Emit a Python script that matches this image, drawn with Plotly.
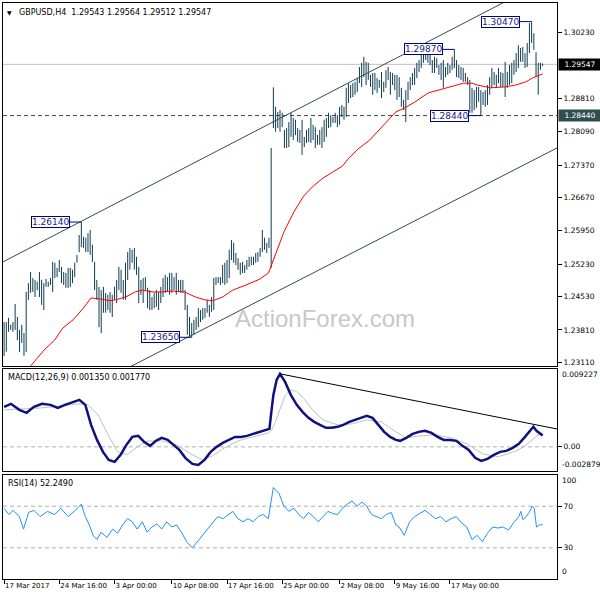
import plotly.graph_objects as go

# ---------------- data (H4 bars, bar index = time) ----------------
bar_high = [
    1.2398, 1.2398, 1.2407, 1.2392, 1.2398, 1.2437, 1.2409, 1.2381, 1.2392, 1.2374,
    1.2463, 1.2482, 1.2506, 1.2493, 1.2489, 1.2485, 1.2506, 1.2489, 1.2482, 1.2491,
    1.2485, 1.2493, 1.2528, 1.2526, 1.2515, 1.2532, 1.2517, 1.2506, 1.2504, 1.2515,
    1.2515, 1.2511, 1.2526, 1.2543, 1.2586,
    1.2614, 1.2582, 1.2580, 1.2590, 1.2597, 1.2565, 1.2528, 1.2489, 1.2474, 1.2467,
    1.2474, 1.2461, 1.2457, 1.2463, 1.2457, 1.2474, 1.2489, 1.2517, 1.2511, 1.2489,
    1.2526, 1.2549, 1.2558, 1.2554, 1.2558, 1.2539, 1.2517, 1.2489, 1.2493, 1.2495,
    1.2472, 1.2467, 1.2452, 1.2461, 1.2467, 1.2463, 1.2474, 1.2493, 1.2500, 1.2495,
    1.2504, 1.2504, 1.2495, 1.2504, 1.2489, 1.2489, 1.2489, 1.2467,
    1.2435, 1.2409, 1.2396, 1.2403, 1.2409, 1.2428, 1.2424, 1.2428, 1.2428, 1.2446,
    1.2435, 1.2452, 1.2493, 1.2495, 1.2495, 1.2495, 1.2521, 1.2526, 1.2532, 1.2554,
    1.2575, 1.2569, 1.2547, 1.2536, 1.2526, 1.2528, 1.2521, 1.2532, 1.2539, 1.2539,
    1.2539, 1.2547, 1.2549, 1.2558, 1.2597, 1.2580, 1.2569, 1.2580, 1.2774,
    1.2905, 1.2863, 1.2852, 1.2856, 1.2850, 1.2813, 1.2817, 1.2830, 1.2850, 1.2839,
    1.2835, 1.2817, 1.2813, 1.2835, 1.2798, 1.2813, 1.2817, 1.2839, 1.2824, 1.2819,
    1.2802, 1.2813, 1.2819, 1.2835, 1.2839, 1.2850, 1.2845, 1.2841, 1.2850, 1.2845,
    1.2863, 1.2867, 1.2863, 1.2904, 1.2914, 1.2910, 1.2914, 1.2917, 1.2925, 1.2949,
    1.2958, 1.2971, 1.2960, 1.2958, 1.2932, 1.2936, 1.2936, 1.2925, 1.2921, 1.2938,
    1.2917, 1.2942, 1.2949, 1.2938, 1.2936, 1.2932,
    1.2932, 1.2927, 1.2904, 1.2878, 1.2899, 1.2917, 1.2927, 1.2936, 1.2947, 1.2958,
    1.2964, 1.2975, 1.2981, 1.2985, 1.2983, 1.2981, 1.2964, 1.2971, 1.2968, 1.2953,
    1.2958, 1.2964, 1.2949, 1.2958, 1.2953, 1.2971, 1.2987, 1.2964, 1.2953, 1.2949,
    1.2947, 1.2936, 1.2927, 1.2921, 1.2904, 1.2899, 1.2906, 1.2906, 1.2899, 1.2895,
    1.2899, 1.2910, 1.2927, 1.2947, 1.2938, 1.2932, 1.2947, 1.2938, 1.2936, 1.2960,
    1.2938, 1.2953, 1.2958, 1.2964, 1.2979, 1.2996, 1.2990, 1.2992, 1.2979, 1.3001,
    1.3044, 1.3047, 1.3022, 1.2981, 1.2958, 1.2958, 1.29564,
]
bar_low = [
    1.2325, 1.2334, 1.2377, 1.2381, 1.2377, 1.2381, 1.2359, 1.2333, 1.2353, 1.2325,
    1.2333, 1.2446, 1.2461, 1.2463, 1.2452, 1.2467, 1.2452, 1.2435, 1.2424, 1.2474,
    1.2474, 1.2478, 1.2463, 1.2493, 1.2495, 1.2506, 1.2482, 1.2478, 1.2472, 1.2472,
    1.2474, 1.2482, 1.2495, 1.2526, 1.2549,
    1.2560, 1.2558, 1.2549, 1.2549, 1.2543, 1.2528, 1.2467, 1.2446, 1.2387, 1.2374,
    1.2418, 1.2418, 1.2424, 1.2418, 1.2409, 1.2446, 1.2439, 1.2467, 1.2461, 1.2446,
    1.2446, 1.2489, 1.2511, 1.2526, 1.2511, 1.2500, 1.2439, 1.2457, 1.2439, 1.2467,
    1.2428, 1.2424, 1.2424, 1.2428, 1.2431, 1.2424, 1.2439, 1.2452, 1.2461, 1.2463,
    1.2457, 1.2461, 1.2467, 1.2457, 1.2463, 1.2461, 1.2461, 1.2424,
    1.2370, 1.2366, 1.2365, 1.2370, 1.2381, 1.2387, 1.2398, 1.2403, 1.2407, 1.2418,
    1.2409, 1.2420, 1.2424, 1.2478, 1.2482, 1.2478, 1.2482, 1.2478, 1.2482, 1.2493,
    1.2532, 1.2526, 1.2521, 1.2511, 1.2500, 1.2504, 1.2504, 1.2511, 1.2517, 1.2521,
    1.2521, 1.2526, 1.2528, 1.2539, 1.2549, 1.2554, 1.2547, 1.2558, 1.2515,
    1.2817, 1.2809, 1.2817, 1.2809, 1.2819, 1.2774, 1.2774, 1.2776, 1.2798, 1.2791,
    1.2802, 1.2787, 1.2785, 1.2759, 1.2776, 1.2785, 1.2787, 1.2785, 1.2791, 1.2774,
    1.2781, 1.2781, 1.2774, 1.2787, 1.2798, 1.2817, 1.2819, 1.2828, 1.2828, 1.2819,
    1.2824, 1.2841, 1.2835, 1.2841, 1.2871, 1.2882, 1.2884, 1.2889, 1.2895, 1.2914,
    1.2906, 1.2927, 1.2910, 1.2921, 1.2906, 1.2889, 1.2899, 1.2893, 1.2904, 1.2882,
    1.2895, 1.2904, 1.2921, 1.2889, 1.2910, 1.2899,
    1.2878, 1.2884, 1.2863, 1.2856, 1.2830, 1.2878, 1.2899, 1.2910, 1.2910, 1.2925,
    1.2938, 1.2947, 1.2958, 1.2964, 1.2958, 1.2953, 1.2936, 1.2936, 1.2947, 1.2932,
    1.2921, 1.2904, 1.2927, 1.2932, 1.2936, 1.2943, 1.2947, 1.2927, 1.2925, 1.2921,
    1.2917, 1.2917, 1.2910, 1.2850, 1.2850, 1.2856, 1.2861, 1.2874, 1.2844, 1.2867,
    1.2863, 1.2867, 1.2889, 1.2904, 1.2910, 1.2904, 1.2914, 1.2906, 1.2906, 1.2884,
    1.2904, 1.2910, 1.2914, 1.2932, 1.2938, 1.2947, 1.2960, 1.2960, 1.2947, 1.2949,
    1.2979, 1.3001, 1.2986, 1.2927, 1.2889, 1.2943, 1.29512,
]

# red moving average (bar index, price)
ma_x = [9.7, 18.2, 22.9, 26.6, 31.3, 35.9, 39.4, 43.4, 47.9, 50.6, 55, 59.4, 62.6, 67, 71.4,
        75.9, 81.7, 86.7, 90.8, 94.5, 99, 103.6, 109.6, 116, 119.8, 122.2, 124.6, 126.8,
        131.3, 135.7, 140.1, 144.5, 148.9, 153.3, 155.5, 159.9, 165.6, 170, 174.4, 177.5,
        181.3, 186, 192.2, 200.2, 208.2, 212, 214.3, 220.5, 227.1, 231.8, 236.5, 239.3, 244]
ma_v = [1.2290, 1.2338, 1.2359, 1.2385, 1.2403, 1.2428, 1.2450, 1.2448, 1.2444, 1.2446,
        1.2452, 1.2463, 1.2467, 1.2463, 1.2463, 1.2465, 1.2463, 1.2452, 1.2446, 1.2444,
        1.2452, 1.2467, 1.2478, 1.2491, 1.2504, 1.2536, 1.2564, 1.2593, 1.2636, 1.2670,
        1.2692, 1.2709, 1.2722, 1.2735, 1.2748, 1.2770, 1.2791, 1.2813, 1.2835, 1.2852,
        1.2860, 1.2873, 1.2893, 1.2904, 1.2914, 1.2914, 1.2910, 1.2904, 1.2906, 1.2910,
        1.2917, 1.2925, 1.2934]

# channel lines and marked levels
upper_ch_x = [-0.5, 250.5]
upper_ch_v = [1.2528, 1.3148]
lower_ch_x = [50, 250.5]
lower_ch_v = [1.2284, 1.2774]
last_price = 1.29547
support_level = 1.28440

# labelled swing points: (bar index, price, label)
swing_idx = [35, 85, 204, 216, 239]
swing_price = [1.2614, 1.2365, 1.2987, 1.2844, 1.3047]
swing_text = ["1.26140", "1.23650", "1.29870", "1.28440", "1.30470"]

# MACD(12,26,9)
macd_x = [0, 3.1, 6.9, 10.2, 13.5, 17.2, 21, 24.3, 27.6, 31.3, 34.1, 36.8, 39.4, 42.1, 44.8,
          47.4, 50.1, 52.8, 55.4, 58.1, 60.8, 63.4, 66.1, 68.8, 71.4, 74.1, 76.8, 79.4, 82.1,
          85.3, 88, 90.8, 93.6, 96.3, 99.1, 101.8, 104.6, 107.3, 110.1, 112.8, 115.6, 118.4,
          120.2, 121, 122, 123.5, 125, 127.3, 129.9, 132.6, 135.2, 137.9, 140.5, 143.1, 145.8,
          148.4, 151.1, 153.7, 156.4, 159, 161.6, 164.3, 166.9, 169.6, 172.2, 174.9, 177.5,
          179.4, 182.2, 185.1, 187.9, 190.7, 193.6, 196.4, 199.2, 202.1, 204.9, 207.7, 210.5,
          213.4, 216.2, 219, 221.9, 224.7, 227.5, 230.4, 233.2, 236, 238.8, 239.8, 241.2,
          242.6, 244]
macd_v = [0.00477, 0.00513, 0.00441, 0.00406, 0.00477, 0.00513, 0.00501, 0.00465, 0.00501,
          0.00537, 0.00561, 0.00501, 0.00262, 0.00083, -0.00060, -0.00155, -0.00179, -0.00095,
          0.00024, 0.00119, 0.00131, 0.00060, 0.00012, 0.00072, 0.00107, 0.00083, 0.00024,
          -0.00036, -0.00131, -0.00203, -0.00215, -0.00155, -0.00060, 0.00000, 0.00048,
          0.00083, 0.00119, 0.00119, 0.00131, 0.00155, 0.00179, 0.00203, 0.00215, 0.00400,
          0.00620, 0.00800, 0.00871, 0.00775, 0.00620, 0.00501, 0.00417, 0.00346, 0.00298,
          0.00262, 0.00227, 0.00227, 0.00239, 0.00262, 0.00298, 0.00322, 0.00346, 0.00370,
          0.00346, 0.00262, 0.00179, 0.00119, 0.00083, 0.00072, 0.00107, 0.00155, 0.00179,
          0.00191, 0.00167, 0.00119, 0.00083, 0.00083, 0.00072, 0.00012, -0.00036, -0.00131,
          -0.00167, -0.00143, -0.00095, -0.00060, -0.00048, -0.00012, 0.00036, 0.00119,
          0.00203, 0.00239, 0.00191, 0.00167, 0.00135]
signal_x = [0, 7.8, 17.2, 26.6, 33.7, 38.1, 42.6, 47, 51.4, 55.9, 60.3, 64.8, 71.4, 78.1, 85.3,
            89.9, 94.5, 99.1, 106, 112.8, 119.7, 121, 123, 125, 127.5, 130, 132.5, 135.7, 140.1,
            144.5, 151.1, 157.7, 164.3, 170.9, 177.5, 182.2, 188.4, 195.5, 202.5, 209.6, 216.7,
            223.8, 230.8, 235.5, 240.3, 244]
signal_v = [0.00441, 0.00453, 0.00465, 0.00489, 0.00513, 0.00500, 0.00380, 0.00150, -0.00060,
            -0.00090, 0.00000, 0.00070, 0.00072, 0.00024, -0.00095, -0.00155, -0.00107, -0.00024,
            0.00072, 0.00119, 0.00167, 0.00190, 0.00300, 0.00450, 0.00620, 0.00680, 0.00660,
            0.00580, 0.00430, 0.00322, 0.00262, 0.00274, 0.00322, 0.00298, 0.00179, 0.00107,
            0.00131, 0.00143, 0.00107, 0.00036, -0.00083, -0.00119, -0.00060, 0.00000, 0.00107,
            0.00177]
macd_tl_x = [125, 250.5]
macd_tl_v = [0.00871, 0.00213]
macd_min, macd_max = -0.002879, 0.009227

# RSI(14)
rsi_x = [0, 2.2, 4.1, 6.9, 8.8, 11.1, 13.5, 16.3, 19.6, 22.9, 25.7, 29, 32.3, 35, 36.8, 38.6,
         40.3, 42.1, 43.9, 46.6, 49.2, 51.4, 53.7, 55.9, 58.1, 60.3, 62.6, 64.8, 67, 69.2, 71.4,
         73.7, 75.9, 78.1, 80.3, 83, 85.3, 87.6, 89.9, 92.2, 94.5, 96.8, 99.1, 101.4, 103.6,
         105.9, 108.2, 110.5, 112.8, 115.1, 117.4, 119.7, 121, 122, 124.6, 126.8, 129, 131.3,
         133.5, 135.7, 137.9, 140.1, 142.3, 144.5, 146.7, 148.9, 151.1, 153.3, 155.5, 157.7,
         159.9, 162.1, 164.3, 166.5, 168.7, 170.9, 173.1, 175.4, 177.5, 178.9, 181.3, 183.7,
         186, 188.4, 190.7, 193.1, 195.5, 197.8, 200.2, 202.5, 204.9, 207.2, 209.6, 212, 214.3,
         216.7, 219, 221.4, 223.8, 226.1, 228.5, 230.8, 233.2, 234.1, 235.1, 236.5, 237.9,
         239.3, 240.2, 241.2, 242.6, 244]
rsi_v = [68, 62, 66, 60, 48, 64, 66, 60, 65, 62, 68, 60, 66, 72, 60, 52, 42, 38, 45, 40,
         48, 44, 52, 58, 55, 48, 55, 45, 50, 53, 48, 55, 50, 52, 45, 35, 30, 36, 42, 48,
         55, 60, 58, 62, 65, 58, 55, 58, 55, 60, 62, 58, 75, 88, 82, 70, 65, 68, 62, 58,
         64, 60, 55, 60, 65, 63, 62, 68, 72, 75, 70, 74, 70, 62, 60, 58, 62, 64, 52, 50,
         42, 55, 60, 63, 66, 62, 58, 60, 55, 58, 60, 54, 50, 38, 42, 36, 44, 50, 49, 50,
         47, 54, 60, 65, 57, 60, 64, 70, 68, 50, 52, 52.249]
rsi_levels = [70, 30]

# axes
x_range = [-0.5, 250.5]
price_range = [1.23030, 1.30872]
price_ticks = [1.30230, 1.28810, 1.28090, 1.27370, 1.26670, 1.25950, 1.25230, 1.24530,
               1.23810, 1.23110]
time_tick_idx = [0, 25, 50, 76, 101, 126, 152, 177, 202]
time_tick_text = ["17 Mar 2017", "24 Mar 16:00", "3 Apr 00:00", "10 Apr 08:00",
                  "17 Apr 16:00", "25 Apr 00:00", "2 May 08:00", "9 May 16:00", "17 May 00:00"]

# ---------------- figure ----------------
FONT = "DejaVu Sans"
BAR_COLOR = "#0f3d52"
CH_COLOR = "#2f4f4f"

fig = go.Figure()

# price panel
fig.add_trace(go.Scatter(x=x_range, y=[last_price, last_price], mode="lines",
                         line=dict(color="#c0c0c0", width=1), xaxis="x", yaxis="y"))
fig.add_trace(go.Scatter(x=x_range, y=[support_level, support_level], mode="lines",
                         line=dict(color="#404040", width=1, dash="4px,3px"), xaxis="x", yaxis="y"))
bx, by = [], []
for i, (h, l) in enumerate(zip(bar_high, bar_low)):
    bx += [i, i, None]
    by += [l, h, None]
fig.add_trace(go.Scatter(x=bx, y=by, mode="lines", line=dict(color=BAR_COLOR, width=1),
                         xaxis="x", yaxis="y"))
fig.add_trace(go.Scatter(x=ma_x, y=ma_v, mode="lines", line=dict(color="#ff0000", width=1),
                         xaxis="x", yaxis="y"))
fig.add_trace(go.Scatter(x=upper_ch_x, y=upper_ch_v, mode="lines",
                         line=dict(color=CH_COLOR, width=1), xaxis="x", yaxis="y"))
fig.add_trace(go.Scatter(x=lower_ch_x, y=lower_ch_v, mode="lines",
                         line=dict(color=CH_COLOR, width=1), xaxis="x", yaxis="y"))

# MACD panel
fig.add_trace(go.Scatter(x=x_range, y=[0, 0], mode="lines",
                         line=dict(color="#b0b0b0", width=1, dash="4px,3px"), xaxis="x2", yaxis="y2"))
fig.add_trace(go.Scatter(x=signal_x, y=signal_v, mode="lines",
                         line=dict(color="#c0c0c0", width=1), xaxis="x2", yaxis="y2"))
fig.add_trace(go.Scatter(x=macd_x, y=macd_v, mode="lines",
                         line=dict(color="#10107e", width=2.5), xaxis="x2", yaxis="y2"))
fig.add_trace(go.Scatter(x=macd_tl_x, y=macd_tl_v, mode="lines",
                         line=dict(color="black", width=1), xaxis="x2", yaxis="y2"))

# RSI panel
for lv in rsi_levels:
    fig.add_trace(go.Scatter(x=x_range, y=[lv, lv], mode="lines",
                             line=dict(color="#b0b0b0", width=1, dash="4px,3px"),
                             xaxis="x3", yaxis="y3"))
fig.add_trace(go.Scatter(x=rsi_x, y=rsi_v, mode="lines",
                         line=dict(color="#1e90ff", width=1), xaxis="x3", yaxis="y3"))

axis_common = dict(showgrid=False, zeroline=False, showline=True, mirror=True,
                   linecolor="black", linewidth=1, fixedrange=True)
tickfont = dict(family=FONT, size=7.5, color="black")

fig.update_layout(
    width=600, height=600,
    margin=dict(l=3, r=43, t=3, b=21),
    paper_bgcolor="white", plot_bgcolor="white",
    showlegend=False, hovermode=False, dragmode=False,
    xaxis=dict(axis_common, range=x_range, domain=[0, 1], anchor="y", showticklabels=False, ticks=""),
    xaxis2=dict(axis_common, range=x_range, domain=[0, 1], anchor="y2", matches="x",
                showticklabels=False, ticks=""),
    xaxis3=dict(axis_common, range=x_range, domain=[0, 1], anchor="y3", matches="x",
                tickvals=time_tick_idx, ticktext=time_tick_text, ticks="outside", ticklen=4,
                tickcolor="black", ticklabelposition="outside right",
                tickfont=dict(family=FONT, size=7, color="black")),
    yaxis=dict(axis_common, domain=[0.36979, 1.0], range=price_range, side="right", anchor="x",
               tickvals=price_ticks, ticktext=["%.5f" % v for v in price_ticks],
               ticks="outside", ticklen=4, tickcolor="black", tickfont=tickfont),
    yaxis2=dict(axis_common, domain=[0.1875, 0.36372], range=[macd_min, macd_max], side="right",
                anchor="x2", tickvals=[0], ticktext=["0.00"], ticks="outside", ticklen=4,
                tickcolor="black", tickfont=tickfont),
    yaxis3=dict(axis_common, domain=[0.0, 0.18056], range=[0, 100], side="right", anchor="x3",
                tickvals=rsi_levels, ticktext=[str(v) for v in rsi_levels], ticks="outside",
                ticklen=4, tickcolor="black", tickfont=tickfont),
)

ann = []
# header
ann.append(dict(xref="paper", yref="paper", x=0, y=1, xanchor="left", yanchor="top",
                xshift=2, yshift=-4, text="\u25BC", showarrow=False,
                font=dict(family=FONT, size=6, color="black")))
ann.append(dict(xref="paper", yref="paper", x=0, y=1, xanchor="left", yanchor="top",
                xshift=14, yshift=-3,
                text="GBPUSD,H4\u00a0\u00a01.29543 1.29564 1.29512 1.29547",
                showarrow=False, font=dict(family=FONT, size=8, color="black")))
ann.append(dict(xref="paper", yref="paper", x=0, y=0.36372, xanchor="left", yanchor="top",
                xshift=3, yshift=-2, text="MACD(12,26,9) 0.001350 0.001770", showarrow=False,
                font=dict(family=FONT, size=8, color="black")))
ann.append(dict(xref="paper", yref="paper", x=0, y=0.18056, xanchor="left", yanchor="top",
                xshift=3, yshift=-2, text="RSI(14) 52.2490", showarrow=False,
                font=dict(family=FONT, size=8, color="black")))
# watermark
ann.append(dict(xref="paper", yref="paper", x=0.7473, y=0.4531, text="ActionForex.com",
                showarrow=False, font=dict(family="Liberation Sans", size=24, color="#c8c8c8")))
# swing labels
for xi, pv, tx in zip(swing_idx, swing_price, swing_text):
    ann.append(dict(x=xi, y=pv, xref="x", yref="y", text=tx, showarrow=True, arrowhead=0,
                    arrowwidth=1, arrowcolor="#000080", ax=-31, ay=0, standoff=0,
                    bordercolor="#000080", borderwidth=1, borderpad=0, bgcolor="white",
                    font=dict(family=FONT, size=9, color="#1a1a8a")))
# right-edge price labels
ann.append(dict(xref="paper", x=1, xanchor="left", xshift=1, yref="y", y=last_price,
                text="%.5f" % last_price, showarrow=False, bgcolor="black", borderpad=1,
                width=40, font=dict(family=FONT, size=7.5, color="white")))
ann.append(dict(xref="paper", x=1, xanchor="left", xshift=1, yref="y", y=support_level,
                text="%.5f" % support_level, showarrow=False, bgcolor="#2f4f4f", borderpad=1,
                width=40, font=dict(family=FONT, size=7.5, color="white")))
# indicator scale extremes
ann.append(dict(xref="paper", x=1, xanchor="left", xshift=3, yref="y2", y=macd_max, yshift=-5,
                text="%.6f" % macd_max, showarrow=False, font=tickfont))
ann.append(dict(xref="paper", x=1, xanchor="left", xshift=3, yref="y2", y=macd_min, yshift=6,
                text="%.6f" % macd_min, showarrow=False, font=tickfont))
ann.append(dict(xref="paper", x=1, xanchor="left", xshift=3, yref="y3", y=100, yshift=-6,
                text="100", showarrow=False, font=tickfont))
ann.append(dict(xref="paper", x=1, xanchor="left", xshift=3, yref="y3", y=0, yshift=7,
                text="0", showarrow=False, font=tickfont))
fig.update_layout(annotations=ann)

# remove the browser's default 8px body margin so the 600x600 figure fills the window;
# hide the plotly mode bar
fig.write_html("out.html", config={"displayModeBar": False},
               post_script="document.body.style.margin='0';")
